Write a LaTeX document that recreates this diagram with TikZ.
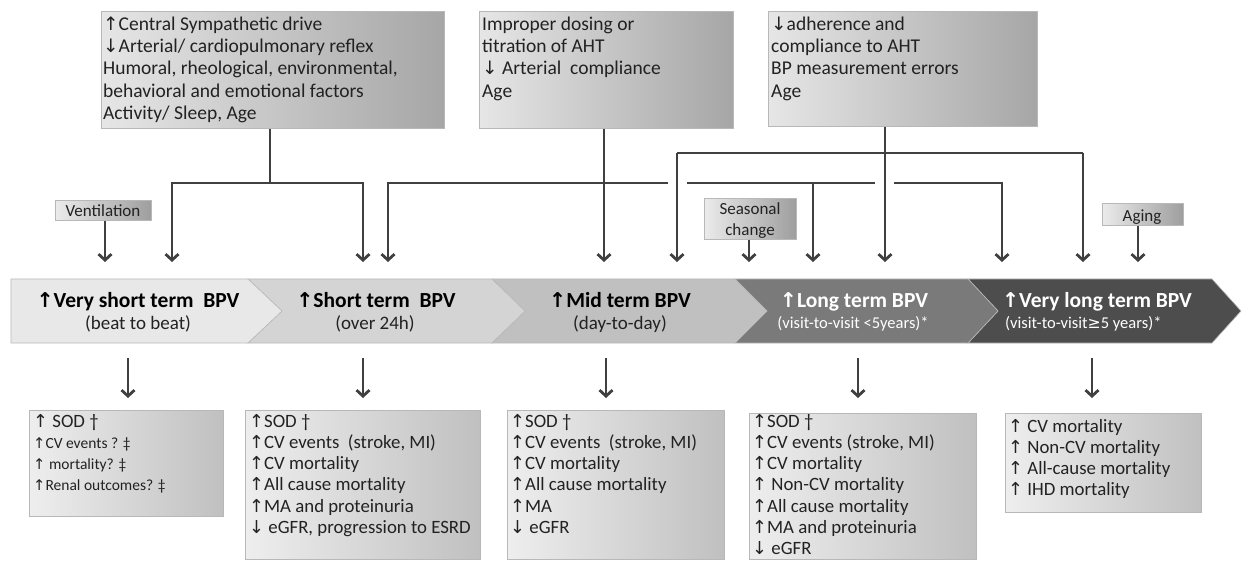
\documentclass[tikz,border=0pt]{standalone}
\usepackage{fontspec}
\setmainfont{Carlito}
\newfontfamily\symfont{DejaVu Sans}[Scale=0.95]
\usetikzlibrary{arrows.meta}
\newcommand{\ua}{{\symfont ↑}}
\newcommand{\da}{{\symfont ↓}}
\newcommand{\geqs}{{\symfont ≥}}
\definecolor{ln}{HTML}{404040}
\definecolor{txt}{HTML}{222222}
\definecolor{cA}{HTML}{E8E8E8}
\definecolor{cB}{HTML}{D4D4D4}
\definecolor{cC}{HTML}{C0C0C0}
\definecolor{cD}{HTML}{7A7A7A}
\definecolor{cE}{HTML}{4D4D4D}
\definecolor{tl}{HTML}{E6E6E6}
\definecolor{tr}{HTML}{A6A6A6}
\definecolor{bl}{HTML}{EEEEEE}
\definecolor{br}{HTML}{C0C0C0}
\definecolor{sl}{HTML}{EBEBEB}
\definecolor{sr}{HTML}{9E9E9E}
\definecolor{edge}{HTML}{B8B8B8}
\tikzset{
  line/.style={draw=ln, line width=2.8pt},
  arr/.style={line, -{Straight Barb[length=6pt,width=13pt]}},
  tbox/.style={draw=edge, line width=0.6pt, left color=tl, right color=tr, anchor=north west, inner sep=0pt},
  bbox/.style={draw=edge, line width=0.6pt, left color=bl, right color=br, anchor=north west, inner sep=0pt},
  sbox/.style={draw=edge, line width=0.6pt, left color=sl, right color=sr, anchor=north west, inner sep=0pt},
  ttext/.style={anchor=north west, inner sep=0pt, align=left, text=txt, font=\fontsize{19.5}{22.3}\selectfont},
  btext/.style={anchor=north west, inner sep=0pt, align=left, text=txt, font=\fontsize{18.8}{21.2}\selectfont},
  stext/.style={anchor=base, inner sep=0pt, align=center, text=txt, font=\fontsize{17}{21}\selectfont},
  ttl/.style={anchor=base, inner sep=0pt, text=black, font=\bfseries\fontsize{21.5}{24}\selectfont},
  sub/.style={anchor=base, inner sep=0pt, text=txt, font=\fontsize{19}{21}\selectfont},
  subw/.style={anchor=base, inner sep=0pt, text=white, font=\fontsize{16.5}{18}\selectfont},
  seg/.style={draw=edge, line width=0.6pt}
}
\begin{document}
\begin{tikzpicture}[x=1pt,y=-1pt]
\useasboundingbox (0,0) rectangle (1242,561);
\fill[white] (0,0) rectangle (1242,561);

% ---- top cause boxes ----
\node[tbox, minimum width=343pt, minimum height=117pt] (A) at (101,11) {};
\node[ttext] (At) at (103,14.4) {\strut\ua Central Sympathetic drive\\\da Arterial/ cardiopulmonary reflex\\Humoral, rheological, environmental,\\behavioral and emotional factors\\Activity/ Sleep, Age};
\node[tbox, minimum width=254pt, minimum height=117pt] (B) at (479,11) {};
\node[ttext] (Bt) at (482,14.4) {\strut Improper dosing or\\titration of AHT\\\da{} Arterial\ \ compliance\\Age};
\node[tbox, minimum width=269pt, minimum height=115pt] (C) at (768,11) {};
\node[ttext] (Ct) at (771,14.4) {\strut\da adherence and\\compliance to AHT\\BP measurement errors\\Age};

% ---- small factor boxes ----
\node[sbox, minimum width=96pt, minimum height=20pt] (V) at (55,200) {};
\node[stext] (Vt) at (103,216.5) {Ventilation};
\node[sbox, minimum width=92pt, minimum height=41pt] (S) at (704,198) {};
\node[stext] (St) at (750,236) {Seasonal\\change};
\node[sbox, minimum width=81pt, minimum height=22pt] (G) at (1102,203) {};
\node[stext] (Gt) at (1142,221.5) {Aging};

% ---- chevron band ----
\filldraw[seg, fill=cE] (968,279) -- (1212,279) -- (1241,311) -- (1212,343) -- (968,343) -- (998,311) -- cycle;
\filldraw[seg, fill=cD] (735,279) -- (968,279) -- (998,311) -- (968,343) -- (735,343) -- (767,311) -- cycle;
\filldraw[seg, fill=cC] (492,279) -- (735,279) -- (767,311) -- (735,343) -- (492,343) -- (525,311) -- cycle;
\filldraw[seg, fill=cB] (248,279) -- (492,279) -- (525,311) -- (492,343) -- (248,343) -- (282,311) -- cycle;
\filldraw[seg, fill=cA] (11,279) -- (248,279) -- (282,311) -- (248,343) -- (11,343) -- cycle;

\node[ttl] (h1) at (138,308) {\ua Very short term\ \ BPV};
\node[sub] (u1) at (138,329) {(beat to beat)};
\node[ttl] (h2) at (376,308) {\ua Short term\ \ BPV};
\node[sub] (u2) at (375,329) {(over 24h)};
\node[ttl] (h3) at (620,308) {\ua Mid term BPV};
\node[sub] (u3) at (620,329) {(day-to-day)};
\node[ttl, text=white] (h4) at (854,308) {\ua Long term BPV};
\node[subw] (u4) at (853,328) {(visit-to-visit <5years)*};
\node[ttl, text=white] (h5) at (1097,308) {\ua Very long term BPV};
\node[subw, anchor=base west] (u5) at (1005,328) {(visit-to-visit\geqs5 years)*};

% ---- outcome boxes ----
\node[bbox, minimum width=194pt, minimum height=106pt] (O1) at (29,410) {};
\node[btext] (O1t) at (33,412.2) {\strut\ua{} SOD †\\{\fontsize{15.5}{21.2}\selectfont\ua CV events ? ‡}\\{\fontsize{15.5}{21.2}\selectfont\ua{} mortality? ‡}\\{\fontsize{15.5}{21.2}\selectfont\ua Renal outcomes? ‡}};
\node[bbox, minimum width=235pt, minimum height=149pt] (O2) at (245,410) {};
\node[btext] (O2t) at (249,412.2) {\strut\ua SOD †\\\ua CV events\ \ (stroke, MI)\\\ua CV mortality\\\ua All cause mortality\\\ua MA and proteinuria\\\da{} eGFR, progression to ESRD};
\node[bbox, minimum width=217pt, minimum height=149pt] (O3) at (507,410) {};
\node[btext] (O3t) at (510,412.2) {\strut\ua SOD †\\\ua CV events\ \ (stroke, MI)\\\ua CV mortality\\\ua All cause mortality\\\ua MA\\\da{} eGFR};
\node[bbox, minimum width=227pt, minimum height=146pt] (O4) at (749,413) {};
\node[btext] (O4t) at (752,412.2) {\strut\ua SOD †\\\ua CV events (stroke, MI)\\\ua CV mortality\\\ua{} Non-CV mortality\\\ua All cause mortality\\\ua MA and proteinuria\\\da{} eGFR};
\node[bbox, minimum width=196pt, minimum height=99pt] (O5) at (1005,413) {};
\node[btext] (O5t) at (1008,417.2) {\strut\ua{} CV mortality\\\ua{} Non-CV mortality\\\ua{} All-cause mortality\\\ua{} IHD mortality};

% ---- coordinates ----
\coordinate (jA) at (270,183);
\coordinate (tA1) at (172,262);
\coordinate (tA2) at (363,262);
\coordinate (jB) at (604,183);
\coordinate (tB1) at (388,262);
\coordinate (tB2) at (604,262);
\coordinate (gB1) at (668,183);
\coordinate (gB2) at (687,183);
\coordinate (gB3) at (875,183);
\coordinate (gB4) at (894,183);
\coordinate (kB) at (813,183);
\coordinate (tB3) at (813,262);
\coordinate (tB4) at (1002,262);
\coordinate (jC) at (885,153);
\coordinate (cL) at (677,153);
\coordinate (cR) at (1083,153);
\coordinate (tC1) at (677,262);
\coordinate (tC2) at (885,262);
\coordinate (tC3) at (1083,262);
\coordinate (tV) at (105,262);
\coordinate (tS) at (749,262);
\coordinate (tG) at (1138,262);

% ---- connectors from cause boxes ----
\draw[line] (A.south -| jA) -- (jA);
\draw[arr] (jA) -| (tA1);
\draw[arr] (jA) -| (tA2);

\draw[arr] (B.south -| jB) -- (tB2);
\draw[arr] (jB) -| (tB1);
\draw[line] (jB) -- (gB1);
\draw[line] (gB2) -- (gB3);
\draw[arr] (gB4) -| (tB4);
\draw[arr] (kB) -- (tB3);

\draw[arr] (C.south -| jC) -- (tC2);
\draw[line] (cL) -- (cR);
\draw[arr] (cL) -- (tC1);
\draw[arr] (cR) -- (tC3);

\draw[arr] (V.south -| tV) -- (tV);
\draw[arr] (S.south -| tS) -- (tS);
\draw[arr] (G.south -| tG) -- (tG);

% ---- arrows to outcome boxes ----
\coordinate (d1) at (128,358);
\coordinate (d2) at (363,358);
\coordinate (d3) at (606,358);
\coordinate (d4) at (858,358);
\coordinate (d5) at (1092,358);
\draw[arr] (d1) -- (d1 |- 0,398);
\draw[arr] (d2) -- (d2 |- 0,398);
\draw[arr] (d3) -- (d3 |- 0,398);
\draw[arr] (d4) -- (d4 |- 0,398);
\draw[arr] (d5) -- (d5 |- 0,398);
\end{tikzpicture}
\end{document}
